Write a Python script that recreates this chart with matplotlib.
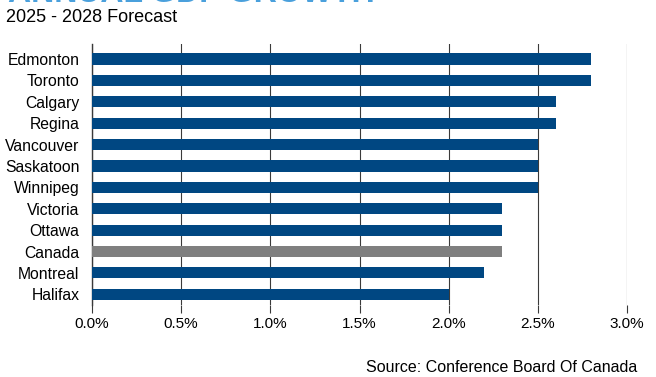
import matplotlib
matplotlib.use("Agg")
import matplotlib.pyplot as plt

# data
cities = ["Edmonton", "Toronto", "Calgary", "Regina", "Vancouver", "Saskatoon",
          "Winnipeg", "Victoria", "Ottawa", "Canada", "Montreal", "Halifax"]
growth = [2.8, 2.8, 2.6, 2.6, 2.5, 2.5, 2.5, 2.3, 2.3, 2.3, 2.2, 2.0]
xticks = [0.0, 0.5, 1.0, 1.5, 2.0, 2.5, 3.0]

plt.rcParams['font.family'] = ['Liberation Sans', 'DejaVu Sans']

navy = "#004782"
grey = "#7f7f7f"
colors = [grey if c == "Canada" else navy for c in cities]

fig = plt.figure(figsize=(6.56, 3.77), dpi=100)
ax = fig.add_axes([92/656, 1 - 305/377, (627 - 92)/656, (305 - 44)/377])

ax.barh(range(len(cities)), growth, height=0.52, color=colors, zorder=3)
ax.set_ylim(11.5, -0.7)
ax.set_xlim(0, 3.0)
ax.set_yticks(range(len(cities)))
ax.set_yticklabels(cities, fontsize=11.3)
ax.set_xticks(xticks)
ax.set_xticklabels([f"{v:.1f}%" for v in xticks], fontsize=11)

ax.grid(axis="x", color="#3a3a3a", linewidth=0.8, zorder=0)
for s in ["top", "right", "bottom"]:
    ax.spines[s].set_visible(False)
ax.spines["left"].set_color("#3a3a3a")
ax.spines["left"].set_linewidth(1.0)
ax.tick_params(axis="y", length=0, pad=9)
ax.tick_params(axis="x", length=6, width=0.8, color="#3a3a3a", pad=3)

# title is clipped at the top edge in the original
fig.text(8/656, 1 - 1.5/377, "ANNUAL GDP GROWTH", fontsize=23, fontweight="bold",
         color="#4aa0dc", va="baseline", ha="left")
fig.text(6/656, 1 - 18/377, "2025 - 2028 Forecast", fontsize=13, va="center", ha="left")
fig.text(637/656, 1 - 367/377, "Source: Conference Board Of Canada", fontsize=11.5,
         va="center", ha="right")

fig.savefig("out.png", dpi=100)
